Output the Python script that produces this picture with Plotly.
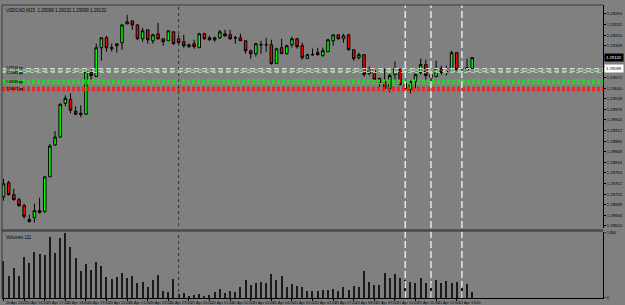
import plotly.graph_objects as go
import pandas as pd

symbol = "USDCAD,M15"
start_time = "2023-04-20 15:00"

opens = [1.28712,1.28754,1.28718,1.28703,1.28685,1.28643,1.28649,1.28670,1.28667,1.28772,
         1.28868,1.28892,1.28994,1.29006,1.28970,1.28964,1.28961,1.29087,1.29075,1.29162,
         1.29192,1.29159,1.29168,1.29177,1.29234,1.29243,1.29231,1.29189,1.29216,1.29183,
         1.29204,1.29189,1.29183,1.29210,1.29189,1.29180,1.29165,1.29174,1.29162,1.29204,
         1.29192,1.29186,1.29192,1.29204,1.29201,1.29192,1.29192,1.29183,1.29153,1.29144,
         1.29171,1.29171,1.29171,1.29114,1.29162,1.29144,1.29171,1.29189,1.29168,1.29129,
         1.29141,1.29147,1.29138,1.29150,1.29183,1.29201,1.29189,1.29201,1.29156,1.29132,
         1.29141,1.29084,1.29096,1.29069,1.29060,1.29039,1.29081,1.29096,1.29054,1.29036,
         1.29060,1.29087,1.29111,1.29081,1.29075,1.29099,1.29090,1.29090,1.29147,1.29099,
         1.29093,1.29099]
highs = [1.28766,1.28760,1.28736,1.28709,1.28691,1.28658,1.28691,1.28709,1.28775,1.28871,
         1.28910,1.28994,1.29018,1.29024,1.28985,1.28988,1.29090,1.29099,1.29174,1.29192,
         1.29198,1.29174,1.29174,1.29231,1.29261,1.29243,1.29231,1.29222,1.29216,1.29204,
         1.29237,1.29189,1.29213,1.29210,1.29201,1.29201,1.29174,1.29186,1.29207,1.29207,
         1.29198,1.29195,1.29216,1.29216,1.29216,1.29198,1.29204,1.29183,1.29156,1.29177,
         1.29183,1.29192,1.29186,1.29162,1.29189,1.29171,1.29195,1.29192,1.29177,1.29144,
         1.29159,1.29162,1.29162,1.29189,1.29201,1.29201,1.29204,1.29204,1.29156,1.29147,
         1.29141,1.29105,1.29099,1.29072,1.29099,1.29084,1.29120,1.29099,1.29063,1.29063,
         1.29084,1.29129,1.29126,1.29087,1.29123,1.29108,1.29108,1.29153,1.29147,1.29105,
         1.29129,1.29132]
lows = [1.28700,1.28715,1.28700,1.28682,1.28646,1.28634,1.28634,1.28661,1.28664,1.28772,
        1.28865,1.28892,1.28985,1.28964,1.28958,1.28952,1.28961,1.29066,1.29075,1.29123,
        1.29150,1.29150,1.29147,1.29156,1.29234,1.29216,1.29186,1.29180,1.29174,1.29174,
        1.29186,1.29168,1.29183,1.29171,1.29171,1.29162,1.29162,1.29159,1.29162,1.29186,
        1.29183,1.29180,1.29189,1.29195,1.29186,1.29174,1.29183,1.29144,1.29129,1.29135,
        1.29144,1.29150,1.29111,1.29114,1.29144,1.29141,1.29162,1.29159,1.29126,1.29129,
        1.29138,1.29138,1.29135,1.29150,1.29168,1.29186,1.29177,1.29153,1.29123,1.29126,
        1.29075,1.29078,1.29063,1.29039,1.29039,1.29027,1.29066,1.29048,1.29036,1.29024,
        1.29039,1.29081,1.29066,1.29054,1.29072,1.29081,1.29078,1.29087,1.29093,1.29078,
        1.29090,1.29099]
closes = [1.28751,1.28718,1.28703,1.28685,1.28652,1.28637,1.28670,1.28664,1.28772,1.28865,
          1.28892,1.28991,1.29009,1.28973,1.28961,1.28961,1.29090,1.29078,1.29162,1.29192,
          1.29162,1.29162,1.29174,1.29231,1.29240,1.29231,1.29189,1.29213,1.29186,1.29201,
          1.29189,1.29180,1.29213,1.29174,1.29177,1.29168,1.29171,1.29165,1.29204,1.29189,
          1.29186,1.29192,1.29210,1.29198,1.29189,1.29192,1.29183,1.29153,1.29144,1.29174,
          1.29171,1.29171,1.29114,1.29159,1.29144,1.29168,1.29189,1.29165,1.29132,1.29141,
          1.29141,1.29141,1.29153,1.29186,1.29201,1.29189,1.29198,1.29156,1.29129,1.29141,
          1.29081,1.29096,1.29066,1.29057,1.29039,1.29078,1.29099,1.29051,1.29039,1.29060,
          1.29081,1.29111,1.29078,1.29072,1.29099,1.29087,1.29090,1.29147,1.29096,1.29099,
          1.29102,1.29132]
volumes = [752,451,615,445,828,705,943,902,875,1250,916,1218,1332,1039,814,553,691,568,726,650,
           430,383,424,506,398,439,308,328,226,363,465,144,111,390,82,90,41,55,76,
           41,55,123,178,96,137,111,219,363,260,295,316,301,486,363,445,213,275,246,213,
           144,144,144,158,158,178,137,226,158,246,226,547,322,260,260,500,398,480,410,363,
           328,295,398,301,308,357,295,336,308,316,246,275,111]

white_levels = [1.29099, 1.29091]
lightgreen_levels = [1.29095, 1.29087]
green_levels = [1.29064, 1.29059, 1.29054]
red_levels = [1.29042, 1.29037, 1.29033]
label_levels = [1.29101, 1.29086, 1.29059, 1.29037]
separator_bar = [34]
marker_bars = [78, 83, 89]

price_ticks = [round(1.29264 - 0.00032 * k, 5) for k in range(21)]
price_range = [1.28616, 1.29291]
vol_max = 1350

times = pd.date_range(start_time, periods=len(opens), freq="15min")
idx = list(range(len(opens)))

# tick labels hidden where a price box sits on the axis (as the terminal does)
box_prices = [closes[-1], white_levels[0]]
tick_text = ["" if any(abs(v - b) < 0.00012 for b in box_prices) else f"{v:.5f}" for v in price_ticks]

fig = go.Figure()
fig.add_trace(go.Candlestick(
    x=idx, open=opens, high=highs, low=lows, close=closes,
    increasing=dict(line=dict(color="#000000", width=1), fillcolor="#00ff00"),
    decreasing=dict(line=dict(color="#000000", width=1), fillcolor="#ff0000"),
    whiskerwidth=0, xaxis="x", yaxis="y", showlegend=False, hoverinfo="skip"))
fig.add_trace(go.Bar(x=idx, y=volumes, width=0.22, marker=dict(color="#1a1a1a", line=dict(width=0)),
                     xaxis="x2", yaxis="y2", showlegend=False, hoverinfo="skip"))

xr = [-0.3, 116.4]
fig.update_layout(
    width=625, height=305, margin=dict(l=2, r=15, t=3, b=7),
    paper_bgcolor="#808080", plot_bgcolor="#808080",
    font=dict(family="Liberation Sans", size=5, color="#000000"),
    xaxis=dict(domain=[0, 1], range=xr, showticklabels=False, showgrid=False, zeroline=False,
               rangeslider=dict(visible=False), anchor="y", fixedrange=True, showline=False),
    yaxis=dict(domain=[0.2373, 1], range=price_range, side="right", tickvals=price_ticks,
               ticktext=tick_text, ticks="outside", ticklen=2,
               tickcolor="#000", showgrid=False, zeroline=False, showline=True,
               linecolor="#000", linewidth=1, tickfont=dict(size=4.2)),
    xaxis2=dict(domain=[0, 1], range=xr, anchor="y2", showgrid=False, zeroline=False,
                tickvals=idx[::4], ticktext=["" for _ in idx[::4]], ticks="outside", ticklen=2,
                tickcolor="#000", showline=True, linecolor="#000", linewidth=1),
    yaxis2=dict(domain=[0, 0.2237], range=[0, vol_max], side="right", tickvals=[0, vol_max],
                ticktext=["0", str(vol_max)], ticks="outside", ticklen=2, showgrid=False,
                zeroline=False, showline=True, linecolor="#000", linewidth=1, tickfont=dict(size=4.2)),
    bargap=0,
)

shapes = []
for lv in green_levels:
    shapes.append(dict(type="line", xref="paper", x0=0, x1=1, yref="y", y0=lv, y1=lv,
                       line=dict(color="#22dd22", width=1.5, dash="3px,2px")))
for lv in red_levels:
    shapes.append(dict(type="line", xref="paper", x0=0, x1=1, yref="y", y0=lv, y1=lv,
                       line=dict(color="#ff1a1a", width=1.5, dash="3px,2px")))
for lv in lightgreen_levels:
    shapes.append(dict(type="line", xref="paper", x0=0, x1=1, yref="y", y0=lv, y1=lv,
                       line=dict(color="#8fdc8f", width=1, dash="4px,3px")))
for lv in white_levels:
    shapes.append(dict(type="line", xref="paper", x0=0, x1=1, yref="y", y0=lv, y1=lv,
                       line=dict(color="#dcdcdc", width=1, dash="5px,3px")))
for b in separator_bar:
    shapes.append(dict(type="line", xref="x", x0=b, x1=b, yref="paper", y0=0, y1=1,
                       line=dict(color="#333333", width=1, dash="dot")))
for b in marker_bars:
    shapes.append(dict(type="line", xref="x", x0=b, x1=b, yref="paper", y0=0, y1=1,
                       line=dict(color="#e6e6e6", width=1.5, dash="7px,3px")))
shapes.append(dict(type="line", xref="paper", x0=0, x1=1, yref="paper", y0=0.2305, y1=0.2305,
                   line=dict(color="#4a4a4a", width=2.5)))
shapes.append(dict(type="line", xref="paper", x0=0, x1=0, yref="paper", y0=0, y1=1,
                   line=dict(color="#3a3a3a", width=1)))
shapes.append(dict(type="line", xref="paper", x0=0, x1=1, yref="paper", y0=1, y1=1,
                   line=dict(color="#3a3a3a", width=1)))
fig.update_layout(shapes=shapes)

ann = []
ann.append(dict(x=0.004, y=0.997, xref="paper", yref="paper", xanchor="left", yanchor="top",
                text=f"{symbol}  {opens[-1]:.5f} {highs[-1]:.5f} {lows[-1]:.5f} {closes[-1]:.5f}",
                showarrow=False, font=dict(size=4.5)))
ann.append(dict(x=0.004, y=0.2215, xref="paper", yref="paper", xanchor="left", yanchor="top",
                text=f"Volumes {volumes[-1]}", showarrow=False, font=dict(size=4.5)))
for i in idx[::4]:
    t = times[i]
    lab = t.strftime("%d %b %Y") if i == 0 else t.strftime("%d %b %H:%M")
    ann.append(dict(x=i, y=0, xref="x2", yref="paper", xanchor="left", yanchor="top", yshift=-1,
                    text=lab, showarrow=False, font=dict(size=3.8)))
for lv in label_levels:
    ann.append(dict(x=0.003, y=lv, xref="paper", yref="y", xanchor="left", yanchor="middle",
                    text=f"<b>{lv:.5f} ▮▮</b>", showarrow=False, font=dict(size=3.4, color="#111")))
ann.append(dict(x=1.0, y=closes[-1], xref="paper", yref="y", xanchor="left", yanchor="middle",
                xshift=1, text=f"{closes[-1]:.5f}", showarrow=False, bgcolor="#000000",
                font=dict(size=4.2, color="#ffffff")))
ann.append(dict(x=1.0, y=white_levels[0], xref="paper", yref="y", xanchor="left", yanchor="middle",
                xshift=1, text=f"{white_levels[0]:.5f}", showarrow=False, bgcolor="#ffffff",
                font=dict(size=4.2, color="#000000")))
fig.update_layout(annotations=ann)

fig.write_html("out.html")
